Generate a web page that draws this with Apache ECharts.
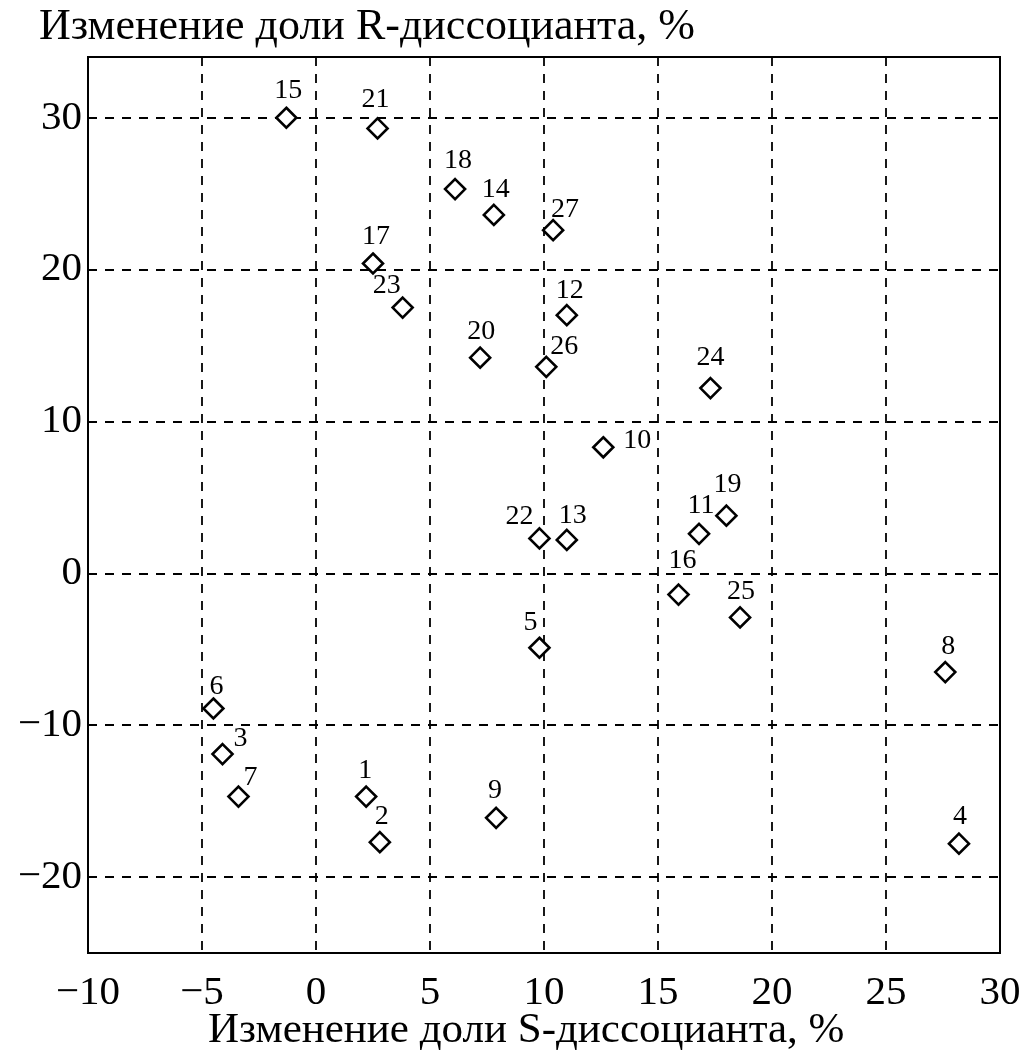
<!DOCTYPE html>
<html>
<head>
<meta charset="utf-8">
<script src="https://cdn.jsdelivr.net/npm/echarts@6/dist/echarts.min.js"></script>
<style>
html,body{margin:0;padding:0;background:#fff;}
#chart{width:1029px;height:1061px;}
</style>
</head>
<body>
<div id="chart"></div>
<script>
// ---- data ----
const pointIds = ['1','2','3','4','5','6','7','8','9','10','11','12','13','14','15','16','17','18','19','20','21','22','23','24','25','26','27'];
const sValues  = [2.2, 2.8, -4.1, 28.2, 9.8, -4.5, -3.4, 27.6, 7.9, 12.6, 16.8, 11.0, 11.0, 7.8, -1.3, 15.9, 2.5, 6.1, 18.0, 7.2, 2.7, 9.8, 3.8, 17.3, 18.6, 10.1, 10.4];
const rValues  = [-14.7, -17.7, -11.9, -17.8, -4.9, -8.9, -14.7, -6.5, -16.1, 8.3, 2.6, 17.0, 2.2, 23.6, 30.0, -1.4, 20.4, 25.3, 3.8, 14.2, 29.3, 2.3, 17.5, 12.2, -2.9, 13.6, 22.6];
const xTicks = [-10, -5, 0, 5, 10, 15, 20, 25, 30];
const yTicks = [-20, -10, 0, 10, 20, 30];
const yTitle = 'Изменение доли R-диссоцианта, %';
const xTitle = 'Изменение доли S-диссоцианта, %';

// label placement (style only)
const labelOffsets = {
  '1':[-1,-26],'2':[2,-25],'3':[18,-15],'4':[1,-27],'5':[-9,-25],'6':[3,-22],'7':[12,-19],
  '8':[3,-25],'9':[-1,-27],'10':[34,-7],'11':[2,-28],'12':[3,-25],'13':[6,-24],'14':[2,-25],
  '15':[2,-27],'16':[4,-34],'17':[3,-27],'18':[3,-28],'19':[1,-31],'20':[1,-26],'21':[-2,-29],
  '22':[-20,-22],'23':[-16,-22],'24':[0,-30],'25':[1,-26],'26':[18,-20],'27':[12,-20]
};

const FONT = '"Liberation Serif", "DejaVu Serif", serif';
const data = pointIds.map((id, i) => ({
  value: [sValues[i], rValues[i], id],
  label: { offset: labelOffsets[id] || [0, -25] }
}));
const fmt = v => (v < 0 ? '\u2212' + Math.abs(v) : String(v));

const chart = echarts.init(document.getElementById('chart'), null, {renderer: 'canvas'});
const dashed = { show: true, lineStyle: { color: '#000', width: 1.8, type: [9, 8] } };
chart.setOption({
  backgroundColor: '#fff',
  animation: false,
  title: [
    { text: yTitle, left: 34, top: 0, textStyle: { fontFamily: FONT, fontSize: 44, fontWeight: 'normal', color: '#000' } },
    { text: xTitle, left: 203, top: 1004, textStyle: { fontFamily: FONT, fontSize: 43, fontWeight: 'normal', color: '#000' } }
  ],
  grid: { left: 88, right: 29, top: 57, bottom: 108, show: true, borderColor: '#000', borderWidth: 2, backgroundColor: 'transparent' },
  xAxis: {
    type: 'value', min: xTicks[0], max: xTicks[xTicks.length - 1], interval: 5,
    axisLine: { show: true, onZero: false, lineStyle: { color: '#000', width: 2 } },
    axisTick: { show: false },
    splitLine: dashed,
    axisLabel: { color: '#000', fontFamily: FONT, fontSize: 41, margin: 20, formatter: fmt }
  },
  yAxis: {
    type: 'value', min: -25, max: 34, splitNumber: 5,
    axisLine: { show: true, onZero: false, lineStyle: { color: '#000', width: 2 } },
    axisTick: { show: false },
    splitLine: dashed,
    axisLabel: { color: '#000', fontFamily: FONT, fontSize: 41, margin: 6,
      showMinLabel: false, showMaxLabel: false,
      formatter: v => (yTicks.indexOf(v) < 0 ? '' : fmt(v)) }
  },
  series: [{
    type: 'scatter',
    data: data,
    symbol: 'diamond',
    symbolSize: 20,
    itemStyle: { color: '#fff', borderColor: '#000', borderWidth: 2.6, opacity: 1 },
    label: {
      show: true, position: 'inside', formatter: p => p.value[2],
      fontFamily: FONT, fontSize: 28, color: '#000', align: 'center', verticalAlign: 'middle'
    }
  }]
});
</script>
</body>
</html>
